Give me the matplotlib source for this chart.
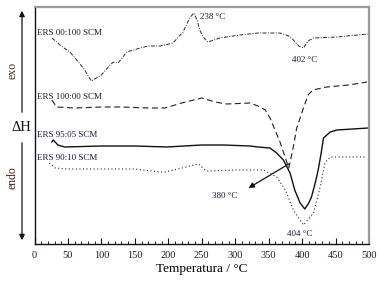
import matplotlib
matplotlib.use("Agg")
import matplotlib.pyplot as plt
from matplotlib.patches import FancyArrowPatch
import numpy as np

plt.rcParams['font.family'] = ['Liberation Serif', 'DejaVu Serif']

# Temperature (°C) and heat-flow (arbitrary units, exo up) for each sample
t_00100 = [26, 40, 53, 73, 85, 100, 113, 118, 125, 138, 158, 170, 188, 207, 222, 232, 238,
           243, 247, 252, 259, 277, 307, 334, 367, 380, 387, 395, 402, 406, 409, 417, 452, 498]
h_00100 = [206, 198, 192, 176, 163, 169, 179, 182, 181, 192, 196, 198, 198, 201, 212, 226, 231,
           224, 214, 207, 202, 206, 209, 211, 211, 208, 204, 198, 196, 200, 203, 206, 207, 210]

t_10000 = [26, 33, 60, 100, 130, 170, 195, 220, 250, 270, 287, 322, 334, 345, 352, 367, 375,
           380, 386, 392, 402, 409, 416, 437, 470, 497]
h_10000 = [144, 137, 136, 137, 137, 136, 136, 141, 146, 142, 140, 141, 138, 134, 126, 102, 86,
           76, 94, 116, 136, 149, 154, 157, 159, 162]

t_9505 = [26, 28, 35, 45, 100, 150, 198, 250, 282, 322, 334, 352, 362, 372, 382, 389, 397,
          404, 410, 414, 420, 424, 428, 432, 442, 452, 499]
h_9505 = [102, 104, 99, 97, 98, 98, 97, 99, 99, 98, 97, 96, 91, 84, 71, 54, 41,
          35, 41, 47, 62, 74, 89, 106, 112, 114, 116]

t_9010 = [22, 31, 48, 100, 150, 188, 195, 227, 245, 257, 300, 342, 362, 375, 387, 402, 417,
          427, 434, 442, 497]
h_9010 = [81, 76, 75, 75, 75, 72, 72, 77, 80, 73, 74, 74, 67, 54, 34, 19, 31,
          57, 81, 87, 87]

labels = ['ERS 00:100 SCM', 'ERS 100:00 SCM', 'ERS 95:05 SCM', 'ERS 90:10 SCM']
label_y = [211, 147, 109, 86]
xticks = [0, 50, 100, 150, 200, 250, 300, 350, 400, 450, 500]

W, H = 384, 283
fig = plt.figure(figsize=(W / 100, H / 100), dpi=100)
ax = fig.add_axes([34.5 / W, 1 - 244 / H, (369 - 34.5) / W, (244 - 7) / H])

lc = '#2a2a2a'
ax.plot(t_00100, h_00100, color=lc, lw=0.7, linestyle=(0, (4, 1.5, 1, 1.5)))
ax.plot(t_10000, h_10000, color=lc, lw=0.85, linestyle=(0, (5, 3)))
ax.plot(t_9505, h_9505, color='#111111', lw=1.0, linestyle='-')
ax.plot(t_9010, h_9010, color=lc, lw=0.8, linestyle=(0, (1, 2.2)))

tc = '#1c1c3a'
for lab, yy in zip(labels, label_y):
    ax.text(3, yy, lab, fontsize=6.5, color=tc, va='center', ha='left')

ax.text(247, 227, '238 °C', fontsize=6.5, color=tc, va='center', ha='left')
ax.text(404, 184, '402 °C', fontsize=6.5, color=tc, va='center', ha='center')
ax.text(397, 10, '404 °C', fontsize=6.5, color=tc, va='center', ha='center')
ax.text(285, 48, '380 °C', fontsize=6.5, color=tc, va='center', ha='center')
ax.annotate('', xy=(320, 56), xytext=(380, 80),
            arrowprops=dict(arrowstyle='-|>', color='#111111', lw=0.9,
                            mutation_scale=8, shrinkA=0, shrinkB=0))

ax.set_xlim(0, 500)
ax.set_ylim(0, 237)
ax.set_xticks(xticks)
ax.set_xticks(np.arange(0, 501, 10), minor=True)
ax.set_yticks([])
ax.tick_params(axis='x', which='major', direction='in', length=4, width=0.8,
               labelsize=7.5, pad=5, top=False, colors='#111111')
ax.tick_params(axis='x', which='minor', direction='in', length=2.2, width=0.6, top=False)
for tl in ax.get_xticklabels():
    tl.set_color('#2a1a14')
ax.set_xlabel('Temperatura / °C', fontsize=9.5, labelpad=2)

ax.spines['left'].set_color('#111111')
ax.spines['bottom'].set_color('#111111')
ax.spines['left'].set_linewidth(1.0)
ax.spines['bottom'].set_linewidth(1.0)
ax.spines['top'].set_color('#9a9a9a')
ax.spines['right'].set_color('#9a9a9a')
ax.spines['top'].set_linewidth(1.6)
ax.spines['right'].set_linewidth(1.6)

# left side: exo / endo indicator
def fx(px):
    return px / W

def fy(py):
    return 1 - py / H

fig.text(fx(12), fy(70), 'exo', rotation=90, fontsize=8.5, color='#4a2418',
         ha='center', va='center')
fig.text(fx(12), fy(178), 'endo', rotation=90, fontsize=8.5, color='#4a2418',
         ha='center', va='center')
fig.text(fx(21), fy(127), 'ΔH', fontsize=10.5, color='#111111', ha='center', va='center')
fig.patches.append(FancyArrowPatch((fx(22), fy(115)), (fx(22), fy(8)),
                                   transform=fig.transFigure, arrowstyle='-|>',
                                   mutation_scale=8, color='#111111', lw=0.9))
fig.patches.append(FancyArrowPatch((fx(22), fy(140)), (fx(22), fy(243)),
                                   transform=fig.transFigure, arrowstyle='-|>',
                                   mutation_scale=8, color='#111111', lw=0.9))

fig.savefig('out.png', dpi=100)
